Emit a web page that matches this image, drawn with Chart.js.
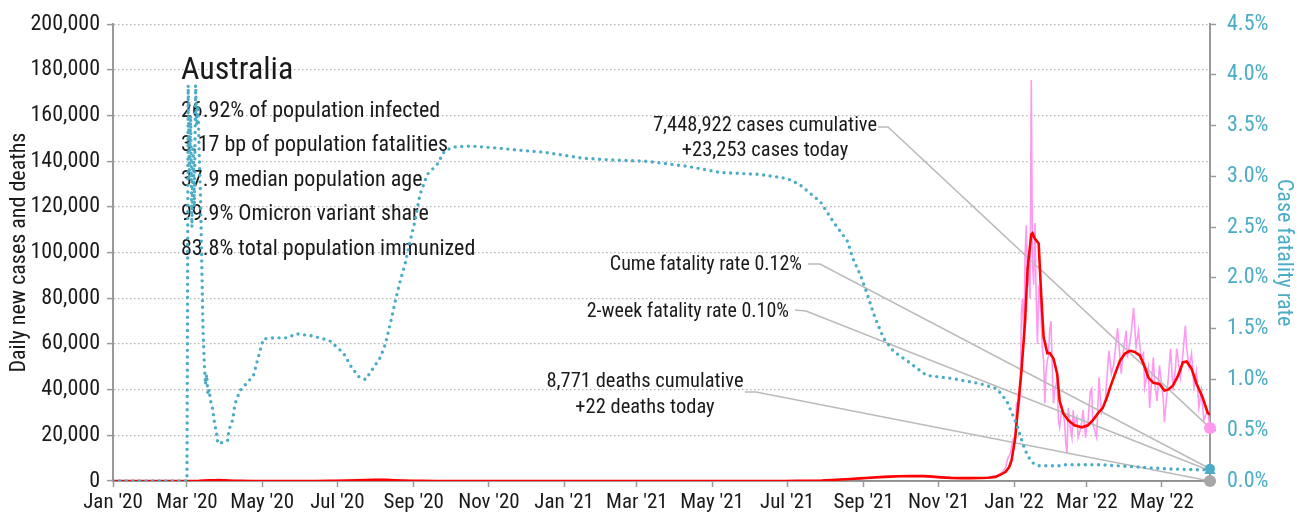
<!DOCTYPE html>
<html><head><meta charset="utf-8">
<script src="https://cdn.jsdelivr.net/npm/chart.js@4.4.0/dist/chart.umd.min.js"></script>
<style>html,body{margin:0;padding:0;background:#fff;}#wrap{width:1306px;height:520px;}</style>
</head><body><div id="wrap"><canvas id="c" width="1306" height="520"></canvas></div>
<script>
// ---------- DATA ----------
const startDate = '2020-01-01';
const lastDay = 890;
const tickDates = ['2020-01-01','2020-03-01','2020-05-01','2020-07-01','2020-09-01','2020-11-01','2021-01-01','2021-03-01','2021-05-01','2021-07-01','2021-09-01','2021-11-01','2022-01-01','2022-03-01','2022-05-01'];
const tickLabels = ["Jan '20","Mar '20","May '20","Jul '20","Sep '20","Nov '20","Jan '21","Mar '21","May '21","Jul '21","Sep '21","Nov '21","Jan '22","Mar '22","May '22"];

const countryName = 'Australia';
const statLines = ['26.92% of population infected','3.17 bp of population fatalities','37.9 median population age','99.9% Omicron variant share','83.8% total population immunized'];

const cumCases = 7448922, todayCases = 23253;
const cumeRate = 0.12, twoWeekRate = 0.10;
const cumDeaths = 8771, todayDeaths = 22;

const cfrDays = [0,60,61,62,63,64,65,66,67,68,69,70,71,72,73,74,75,76,77,78,79,81,82,84,85,89,93,94,97,99,103,109,114,117,119,122,130,141,149,161,171,176,187,194,200,205,211,217,221,225,229,233,237,241,245,249,255,263,269,276,290,312,328,349,365,381,409,433,466,492,525,547,557,574,584,596,600,606,612,617,625,633,647,660,681,703,717,725,730,734,738,742,746,751,767,772,801,828,855,882,890];
const cfrValues = [0,0,3.9,3.0,3.6,2.5,3.3,2.7,3.9,3.5,3.7,3.2,2.8,2.16,1.5,1.18,0.95,1.05,0.85,0.9,0.8,0.7,0.6,0.47,0.37,0.38,0.4,0.5,0.6,0.76,0.89,0.97,1.04,1.18,1.27,1.4,1.41,1.41,1.45,1.43,1.4,1.38,1.26,1.11,1.02,1.0,1.11,1.22,1.35,1.55,1.77,1.97,2.14,2.36,2.56,2.82,3.02,3.12,3.25,3.29,3.3,3.28,3.26,3.24,3.21,3.18,3.16,3.15,3.1,3.04,3.02,2.98,2.92,2.75,2.56,2.36,2.2,2.04,1.84,1.65,1.41,1.28,1.16,1.04,1.01,0.96,0.91,0.79,0.65,0.53,0.37,0.25,0.18,0.15,0.15,0.16,0.16,0.14,0.12,0.11,0.11];

const avgDays = [0,50,58,65,70,74,78,82,86,90,94,98,104,112,125,150,165,175,182,190,198,205,212,217,222,228,235,242,250,262,280,300,320,350,360,372,390,450,500,530,545,555,565,575,583,590,598,606,614,622,630,638,646,652,658,665,672,680,688,696,703,710,716,720,724,727,729,732,734,737,740,742,745,746,748,751,753,755,758,760,763,766,768,771,775,780,786,791,795,799,803,806,809,813,817,821,825,829,833,836,840,844,849,853,856,860,864,868,871,875,879,884,888,890];
const avgValues = [0,0,2,15,60,150,280,360,390,330,230,120,50,20,12,12,15,50,100,200,330,420,520,560,480,350,200,110,60,25,12,10,8,12,20,15,8,10,12,15,25,60,120,200,400,650,900,1150,1400,1700,1900,2050,2150,2200,2150,1900,1600,1350,1250,1250,1300,1450,1800,2800,3900,6000,9000,19000,31000,48000,70000,93000,108000,108500,106000,104000,82000,63000,56000,56000,53600,47000,35000,29600,26600,24400,23500,24400,26600,29600,32000,36000,41000,47000,52700,55800,57000,56500,55000,51400,45300,43000,42500,39600,40000,41800,46000,51900,52300,49200,42700,36600,30000,29000];

const dailyDays = [0,55,60,66,70,74,78,82,86,90,94,98,104,112,130,160,175,185,195,205,212,216,220,228,236,245,260,290,340,360,380,450,530,550,565,580,590,600,610,620,630,640,650,660,670,680,690,700,706,711,714,717,719,721,723,724,726,728,730,732,733,735,736,737,738,739,740,741,742,743,744,745,746,747,748,749,750,751,752,753,754,755,756,757,758,759,760,761,762,763,764,766,767,768,770,772,773,774,775,777,778,779,780,782,783,785,786,787,789,790,791,793,794,795,797,798,800,801,802,803,805,806,808,810,812,815,818,820,822,823,826,828,830,832,834,836,837,840,841,844,845,847,849,852,853,856,858,860,862,863,866,868,870,871,873,875,877,879,881,883,885,888,890];
const dailyValues = [0,0,5,40,100,250,350,400,360,300,220,100,40,20,10,12,60,150,300,450,600,650,500,380,200,80,25,10,10,25,8,10,15,40,130,300,650,1000,1300,1700,1900,2100,2200,2000,1600,1300,1200,1300,1400,1500,2100,2300,3000,3500,5000,5700,10000,12000,18000,20000,34000,33000,36600,74500,80000,60000,100000,112000,85000,95000,80000,175600,95000,86000,113000,80000,60000,84500,83000,70000,58000,52700,34000,48000,52700,55000,66600,70000,49700,34000,40000,44000,26600,23500,32000,26000,16500,12000,32000,22000,19000,31000,25000,28000,19000,23000,26000,31000,19000,24000,26000,39600,40500,25000,21000,19000,45300,36000,30000,32000,35000,42700,57000,47000,51400,67000,47000,58400,65800,54000,64500,75800,58400,65800,54000,56000,41000,49700,32000,54000,44000,35000,50500,36600,25700,44000,58000,39600,49700,58000,45300,55800,68000,58400,49700,55800,41000,48000,32000,39600,26600,31000,23253];

const deathDays = [0,80,90,100,200,220,230,250,300,600,660,700,740,760,800,850,890];
const deathValues = [0,1,3,2,10,18,20,8,0,8,15,10,50,80,40,45,22];

// ---------- STYLE ----------
const FAMILY = 'Roboto, "DejaVu Sans", sans-serif';
const STRETCH = 'condensed';
const cf = size => STRETCH + ' ' + size + 'px ' + FAMILY;
const chartFont = size => ({family: FAMILY, size, weight: STRETCH});
const TEAL = '#4BACC6', PINK = '#FF99F0', RED = '#FF0000', GRAY = '#BBBBBB', AXIS = '#999999', INK = '#1a1a1a';

const dayOf = iso => Math.round((Date.parse(iso) - Date.parse(startDate)) / 86400000);
const tickDays = tickDates.map(dayOf);
const pts = (d, v) => d.map((x, i) => ({x, y: v[i]}));
const fmt = n => n.toLocaleString('en-US');

const annotPlugin = {
  id: 'annot',
  beforeDatasetsDraw(chart) {
    const ctx = chart.ctx;
    ctx.save();
    ctx.fillStyle = INK;
    ctx.textAlign = 'left';
    ctx.textBaseline = 'middle';
    ctx.font = cf(32);
    ctx.fillText(countryName, 181, 71);
    ctx.font = cf(22);
    statLines.forEach((s, i) => ctx.fillText(s, 181, 111 + i * 34.6));
    ctx.restore();
  },
  afterDatasetDraw(chart, args) {
    if (args.index !== 1) return;
    const ctx = chart.ctx, xs = chart.scales.x, y = chart.scales.y, y1 = chart.scales.y1;
    const ex = xs.getPixelForValue(lastDay);
    const leaders = [
      [878, 127, 888, 127, y.getPixelForValue(todayCases)],
      [808, 264, 820, 264, y1.getPixelForValue(cumeRate)],
      [795, 310, 806, 311, y1.getPixelForValue(twoWeekRate)],
      [745, 392, 756, 392, y.getPixelForValue(todayDeaths)]
    ];
    ctx.save();
    ctx.strokeStyle = GRAY; ctx.lineWidth = 1.6;
    leaders.forEach(([sx, sy, bx, by, ey]) => {
      ctx.beginPath(); ctx.moveTo(sx, sy); ctx.lineTo(bx, by); ctx.lineTo(ex, ey); ctx.stroke();
    });
    ctx.restore();
  },
  afterDatasetsDraw(chart) {
    const ctx = chart.ctx;
    ctx.save();
    ctx.fillStyle = INK;
    ctx.textBaseline = 'middle';
    ctx.font = cf(20.5);
    ctx.textAlign = 'center';
    ctx.fillText(fmt(cumCases) + ' cases cumulative', 765, 126);
    ctx.fillText('+' + fmt(todayCases) + ' cases today', 765, 151);
    ctx.fillText(fmt(cumDeaths) + ' deaths cumulative', 645, 382);
    ctx.fillText('+' + fmt(todayDeaths) + ' deaths today', 645, 408);
    ctx.font = cf(20);
    ctx.textAlign = 'right';
    ctx.fillText('Cume fatality rate ' + cumeRate.toFixed(2) + '%', 802, 265);
    ctx.fillText('2-week fatality rate ' + twoWeekRate.toFixed(2) + '%', 789, 312);
    ctx.restore();
  }
};

const marker = (data, yAxisID, color, style, r, order) => ({
  type: 'line', data, yAxisID, showLine: false, clip: false, order,
  pointRadius: r, pointStyle: style, pointBackgroundColor: color, pointBorderColor: color, pointBorderWidth: 0
});

new Chart(document.getElementById('c'), {
  type: 'line',
  data: {
    datasets: [
      {label: 'Daily deaths', data: pts(deathDays, deathValues), yAxisID: 'y', borderColor: '#888', borderWidth: 1, pointRadius: 0, order: 6},
      {label: 'Daily cases', data: pts(dailyDays, dailyValues), yAxisID: 'y', borderColor: PINK, borderWidth: 1.6, pointRadius: 0, order: 5},
      {label: '7-day average', data: pts(avgDays, avgValues), yAxisID: 'y', borderColor: RED, borderWidth: 2.6, pointRadius: 0, order: 4},
      {label: 'Case fatality rate', data: pts(cfrDays, cfrValues), yAxisID: 'y1', borderColor: TEAL, borderWidth: 3.4, borderDash: [0, 6.6], borderCapStyle: 'round', pointRadius: 0, order: 3},
      marker([{x: lastDay, y: todayDeaths}], 'y', '#A6A6A6', 'circle', 6, 2),
      marker([{x: lastDay, y: twoWeekRate}], 'y1', TEAL, 'triangle', 6.5, 1),
      marker([{x: lastDay, y: cumeRate}], 'y1', TEAL, 'circle', 5, 1),
      marker([{x: lastDay, y: todayCases}], 'y', PINK, 'circle', 6, 0)
    ]
  },
  options: {
    responsive: false, animation: false, devicePixelRatio: 1,
    layout: {padding: {top: 22, left: 0, right: 0, bottom: 0}},
    plugins: {legend: {display: false}, tooltip: {enabled: false}},
    elements: {line: {tension: 0}},
    scales: {
      x: {
        type: 'linear', min: 0, max: lastDay,
        afterBuildTicks: s => { s.ticks = tickDays.map(v => ({value: v})); },
        afterFit: s => { s.height = 39; },
        ticks: {autoSkip: false, maxRotation: 0, padding: 3, color: INK, font: chartFont(21),
          callback: v => tickLabels[tickDays.indexOf(v)]},
        grid: {drawOnChartArea: false, drawTicks: true, tickLength: 6, tickColor: AXIS, tickWidth: 1.5},
        border: {color: AXIS, width: 2}
      },
      y: {
        position: 'left', min: 0, max: 200000,
        afterFit: s => { s.width = 113; },
        ticks: {stepSize: 20000, padding: 7, color: INK, font: chartFont(22), callback: v => fmt(v)},
        grid: {color: '#b5b5b5', lineWidth: 1.2, tickLength: 6, tickColor: AXIS, tickWidth: 1.5, tickBorderDash: []},
        border: {color: AXIS, width: 2, dash: [1.5, 2.5]},
        title: {display: true, text: 'Daily new cases and deaths', color: INK, font: chartFont(22), padding: {top: 6, bottom: 0}}
      },
      y1: {
        position: 'right', min: 0, max: 4.5,
        afterFit: s => { s.width = 96; },
        ticks: {stepSize: 0.5, padding: 11, color: TEAL, font: chartFont(22), callback: v => v.toFixed(1) + '%'},
        grid: {drawOnChartArea: false, tickLength: 6, tickColor: AXIS, tickWidth: 1.5},
        border: {color: AXIS, width: 2},
        title: {display: true, text: 'Case fatality rate', color: TEAL, font: chartFont(22), padding: {top: 9, bottom: 4}}
      }
    }
  },
  plugins: [annotPlugin]
});
</script></body></html>
